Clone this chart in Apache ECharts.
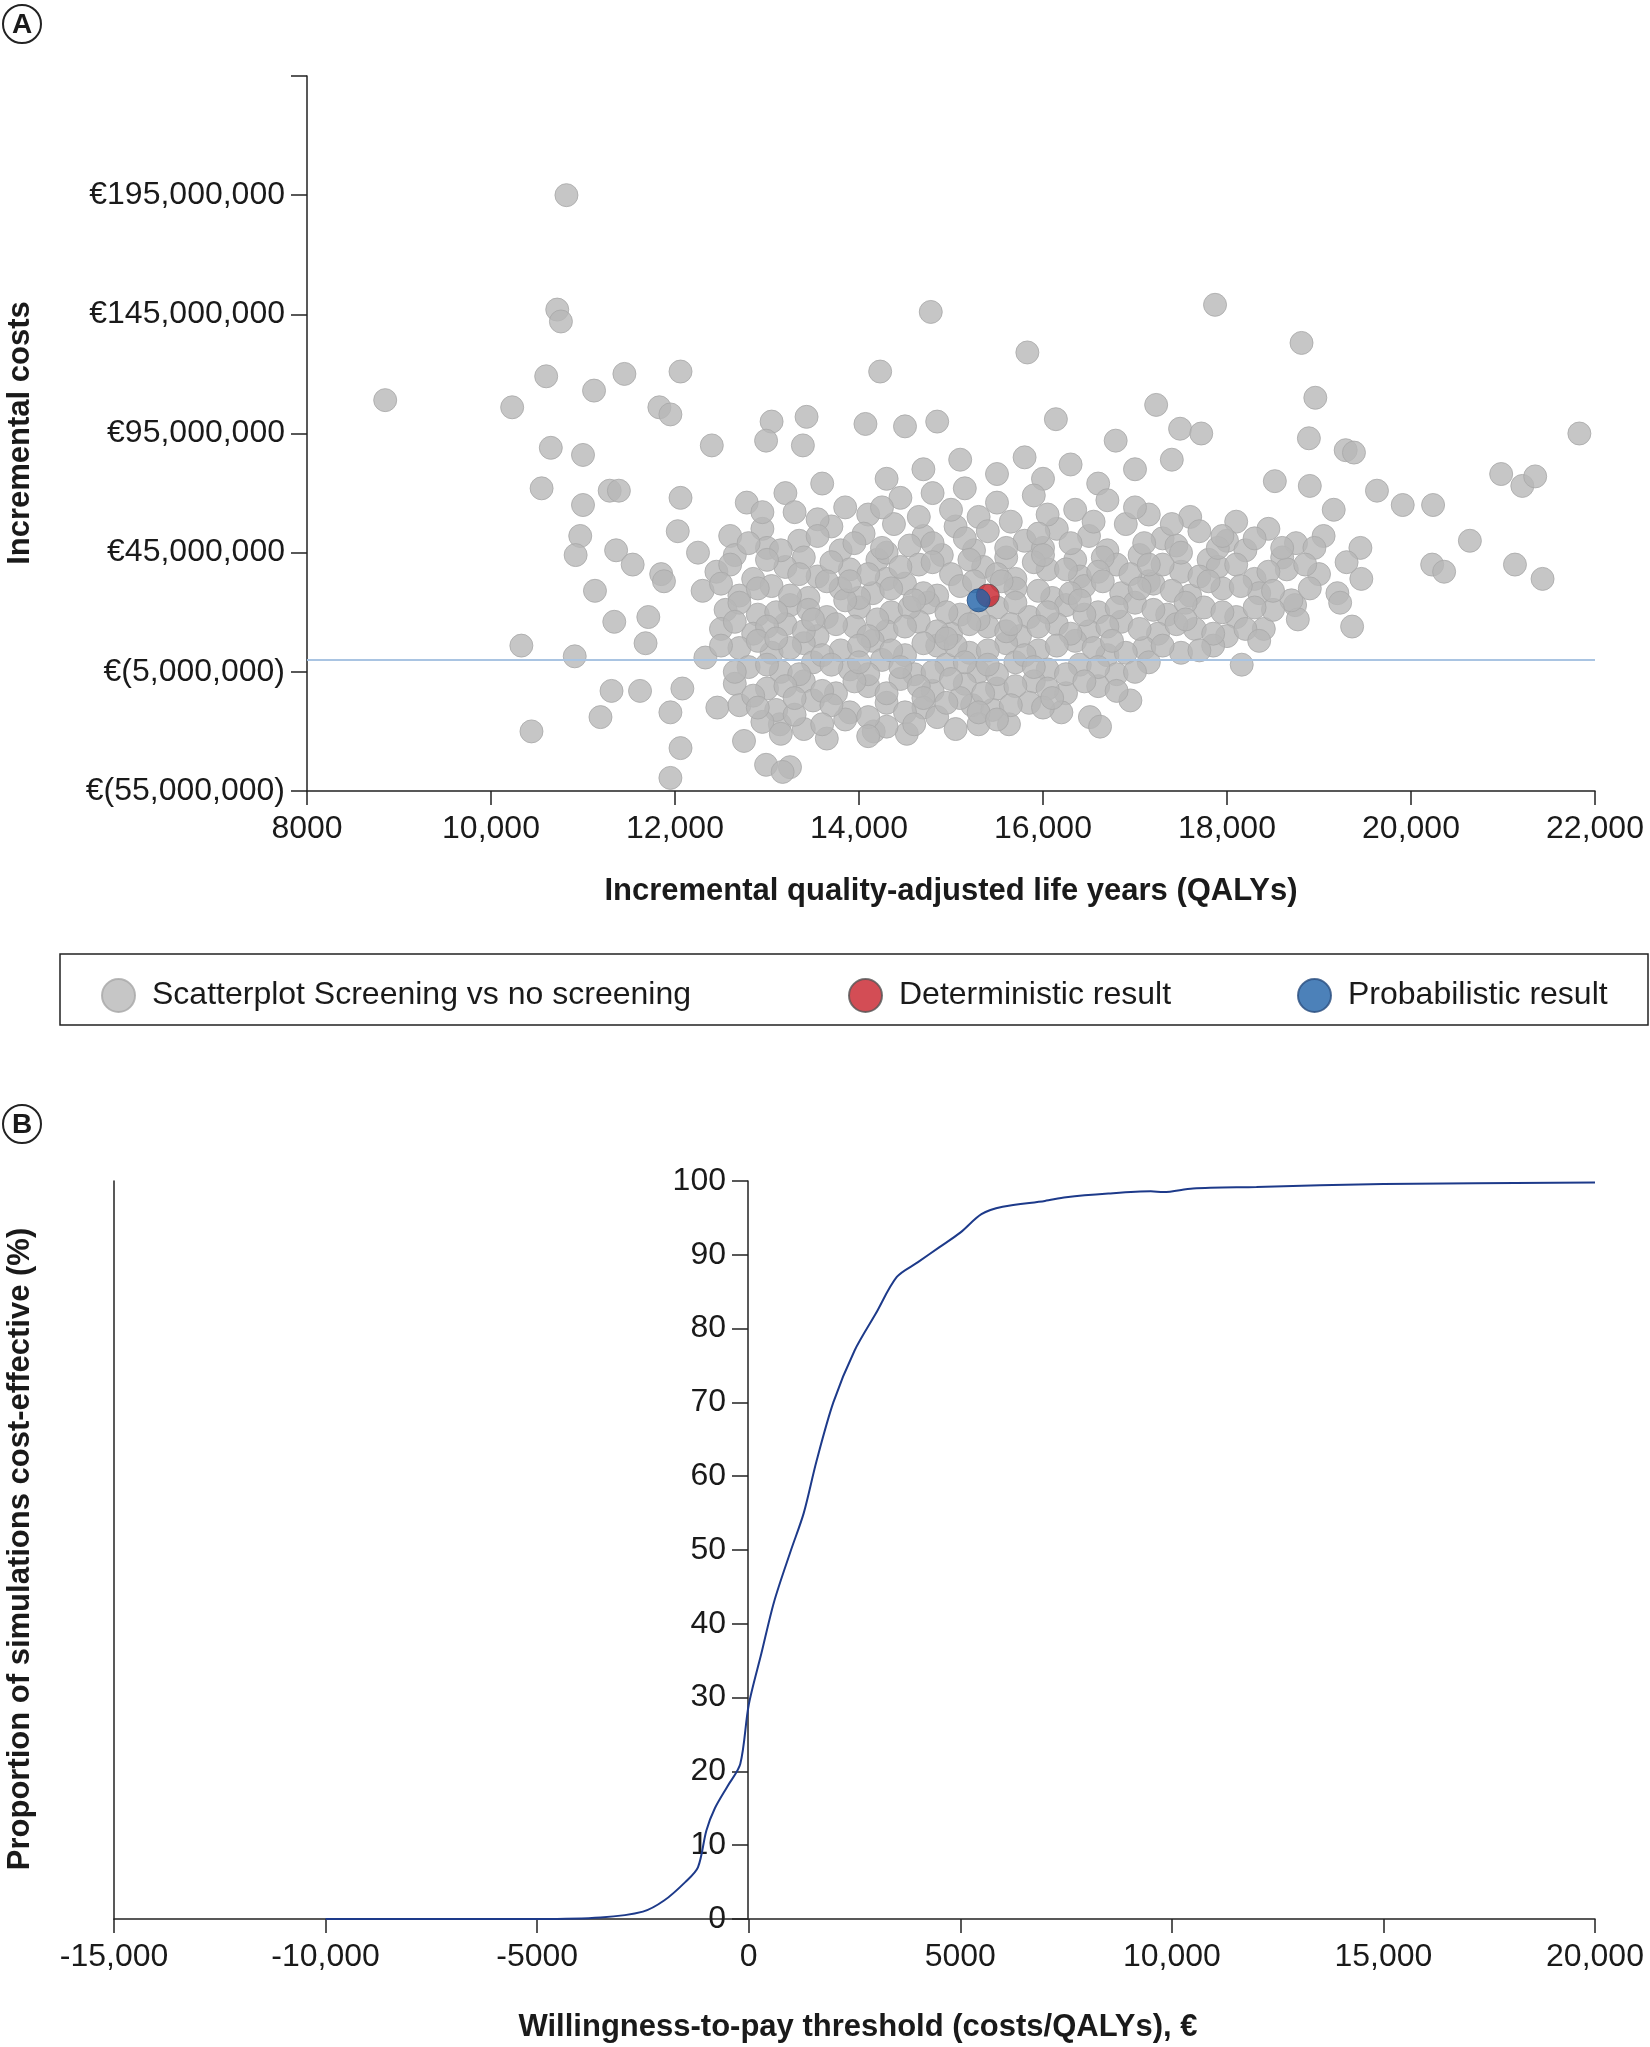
<!DOCTYPE html>
<html>
<head>
<meta charset="utf-8">
<script src="https://cdn.jsdelivr.net/npm/echarts@6/dist/echarts.min.js"></script>
<style>
  html, body { margin: 0; padding: 0; background: #fff; }
  #chart { width: 1650px; height: 2047px; }
</style>
</head>
<body>
<div id="chart"></div>
<script>
// ---------------------------------------------------------------------------
// Data: panel A (incremental QALYs, incremental costs in millions of euro)
// ---------------------------------------------------------------------------
const outlierPoints = [
  [8850,109],[10820,195],[10720,147],[10760,142],[10230,106],[10600,119],[11120,113],
  [11450,120],[11830,106],[11950,103],[12060,121],[10650,89],[11000,86],[12400,90],
  [10550,72],[11000,65],[11290,71],[11390,71],[12060,68],[10970,52],[10920,44],
  [11360,46],[11540,40],[11130,29],[12030,54],[11850,36],[11880,33],[11340,16],
  [11710,18],[11680,7],[10330,6],[10910,1.5],[11310,-13],[11620,-13],[11190,-24],
  [10440,-30],[11950,-22],[12080,-12],[12060,-37],[11950,-49.5],[12330,1],[12460,-20],
  [14780,146],[15830,129],[14230,121],[13050,100],[12990,92],[13430,102],[13390,90],
  [14070,99],[14500,98],[14850,100],[16140,101],[17870,149],[18810,133],[18960,110],
  [17230,107],[18890,93],[21830,95],[17490,97],[17720,95],[16790,92],[19290,88],
  [19380,87],[20980,78],[21210,73],[21350,77],[19630,71],[19910,65],[20240,65],
  [20640,50],[20230,40],[20360,37],[21130,40],[21430,34],[19360,14],[18160,-2],
  [16950,-17],[16510,-24],[15630,-27],[14160,-30],[13250,-45],[12990,-44],[13170,-47],
  [12750,-34],[13140,-27],[13650,-33],[14520,-31],[15230,-19],[16620,-28],[19450,47],
  [19460,34],[19160,63],[18900,73],[18520,75],[19200,28],[19230,24],[18740,23],
  [18400,13],[18770,17],[14700,80],[15100,84],[15500,78],[16000,76],[16600,74],
  [17000,80],[17400,84],[14300,76],[13600,74],[13200,70],[15800,85],[16300,82]
];
const corePoints = [
  [12780,66],[13300,62],[13850,64],[14450,68],[14800,70],[15150,72],[15500,66],[15900,69],
  [16350,63],[16700,67],[17150,61],[17600,60],[18100,58],[14100,61],[15300,60],
  [12600,52],[12950,55],[13350,50],[13700,56],[14050,53],[14380,57],[14700,52],[15050,56],
  [15400,54],[15800,50],[16150,55],[16500,52],[16900,57],[17300,51],[17700,54],[18000,50],
  [18450,55],[18750,49],[19050,52],
  [12250,45],[12650,44],[13000,47],[13400,43],[13800,46],[14200,42],[14550,48],[14900,44],
  [15250,46],[15600,43],[16000,47],[16350,42],[16700,46],[17050,44],[17450,48],[17800,42],
  [18200,46],[18600,43],[18950,47],[19300,41],
  [12450,37],[12850,34],[13200,39],[13550,35],[13900,38],[14300,34],[14650,40],[15000,36],
  [15350,39],[15700,34],[16050,38],[16400,35],[16800,40],[17150,33],[17500,37],[17900,39],
  [18300,34],[18650,38],[19000,36],
  [12300,29],[12700,27],[13050,31],[13450,26],[13800,30],[14150,28],[14500,32],[14850,27],
  [15700,30],[16100,26],[16450,31],[16850,28],[17200,32],[17600,27],[17950,30],[18350,28],
  [18700,25],
  [12550,21],[12900,19],[13250,23],[13650,18],[14000,22],[14350,20],[14750,24],[15100,19],
  [15500,22],[15850,18],[16250,23],[16600,20],[17000,24],[17350,19],[17750,22],[18100,18],
  [18500,21],
  [12500,13],[12850,11],[13200,15],[13550,10],[13950,14],[14300,12],[14650,16],[15000,11],
  [15400,14],[15750,10],[16150,15],[16500,12],[16850,16],[17250,11],[17650,13],[18000,10],
  [12700,5],[13050,3],[13400,7],[13800,4],[14150,8],[14500,2],[14850,6],[15200,3],
  [15600,7],[15950,4],[16350,8],[16700,2],[17100,5],[17500,3],[17850,6],
  [12800,-3],[13150,-5],[13500,-1],[13900,-4],[14250,0],[14600,-6],[14950,-2],[15300,-5],
  [15700,-1],[16050,-4],[16400,-2],[16800,-6],[17150,-1],
  [12650,-10],[13000,-12],[13400,-9],[13750,-14],[14100,-11],[14450,-8],[14800,-13],[15150,-10],
  [15500,-12],[15900,-9],[16250,-14],[16600,-11],
  [12700,-19],[13100,-21],[13500,-17],[13900,-22],[14300,-18],[14700,-20],[15100,-16],[15450,-21],
  [15850,-18],[16200,-22],
  [12950,-26],[13400,-29],[13850,-25],[14300,-28],[14850,-24],[15300,-27]
];
// second, offset layer filling the dense centre of the cloud
const densePoints = [
  [12950,62],[13550,59],[14250,64],[14650,60],[15000,63],[15650,58],[16050,61],[16550,58],[17000,64],[17400,57],
  [12800,49],[13150,46],[13550,52],[13950,49],[14300,45],[14800,49],[15150,51],[15600,47],[15950,53],[16300,49],
  [16650,43],[17100,49],[17500,45],[17900,47],[18300,51],[18600,47],
  [12600,40],[13000,42],[13350,36],[13700,41],[14100,36],[14450,39],[14800,41],[15200,42],[15500,36],[15900,41],
  [16250,38],[16600,37],[16950,36],[17300,40],[17700,35],[18100,40],[18450,37],[18850,40],
  [12500,32],[12900,30],[13250,27],[13650,33],[14000,26],[14350,30],[14700,28],[15100,31],[15550,33],[15950,29],
  [16300,28],[16650,33],[17050,30],[17400,29],[17800,33],[18150,31],[18500,29],[18900,30],
  [12700,24],[13100,20],[13450,21],[13850,25],[14200,17],[14550,22],[14950,20],[15300,17],[15700,24],[16050,20],
  [16450,19],[16800,22],[17200,21],[17550,24],[17950,20],[18300,22],
  [12650,16],[13000,14],[13400,12],[13750,15],[14100,10],[14500,14],[14850,12],[15200,15],[15600,12],[15950,14],
  [16300,11],[16700,14],[17050,13],[17450,15],[17850,11],[18200,13],
  [12500,6],[12900,8],[13250,5],[13600,2],[14000,6],[14350,4],[14700,7],[15050,6],[15400,4],[15800,2],
  [16150,6],[16550,5],[16900,3],[17300,6],[17700,4],
  [12650,-5],[13000,-2],[13350,-6],[13700,-2],[14100,-6],[14450,-3],[14800,-5],[15150,-1],[15500,-6],[15900,-3],
  [16250,-6],[16600,-3],[17000,-5],
  [12850,-15],[13200,-11],[13600,-13],[13950,-9],[14300,-14],[14650,-11],[15000,-8],[15350,-14],[15700,-11],[16050,-12],
  [16450,-9],[16800,-13],
  [12900,-20],[13300,-23],[13700,-19],[14100,-24],[14500,-22],[14950,-18],[15300,-22],[15650,-19],[16000,-20],
  [13150,-31],[13600,-27],[14100,-32],[14600,-27],[15050,-29],[15500,-25],
  [13100,9],[13500,17],[13900,33],[14250,47],[14600,25],[14950,9],[15250,33],[15650,15],[16000,44],[16400,25],
  [16750,8],[17150,40],[17550,17],[17950,52],[18350,8],[13300,-16],[14000,-1],[14700,-16],[15400,-2],[16100,-16]
];
const deterministicPoint = [[15400, 27]];
const probabilisticPoint = [[15300, 25]];

// Panel B: acceptability curve (WTP threshold, % cost-effective)
const wtpValues = [-10000,-5000,-3500,-2500,-2000,-1500,-1200,-1000,-800,-500,-200,0,300,600,1000,1300,
  1600,2000,2500,3000,3500,4000,4500,5000,5500,6000,7000,7500,8500,9500,9800,10500,12000,15000,20000];
const pctValues = [0,0,0.2,1,2.5,5,7,12,15,18,21,29,36,43,50,55,
  62,70,77,82,87,89,91,93,95.5,96.5,97.3,97.8,98.3,98.6,98.5,99,99.2,99.6,99.8];

// ---------------------------------------------------------------------------
const FONT = 'Liberation Sans';
const TXT = '#1a1a1a';
const fmtThousands = v => Math.abs(v) >= 10000 ? v.toLocaleString('en-US') : String(v);
const fmtEuro = v => {
  if (v === 245) return '';
  const s = (Math.abs(v) * 1e6).toLocaleString('en-US');
  return v < 0 ? '€(' + s + ')' : '€' + s;
};
const axisLabel = { fontFamily: FONT, fontSize: 32, color: TXT };
const axisLine = { show: true, onZero: false, lineStyle: { color: '#222', width: 1.5 } };
const axisTick = { show: true, length: 14, lineStyle: { color: '#222', width: 1.5 } };
const titleStyle = { fontFamily: FONT, fontSize: 31, fontWeight: 'bold', fill: TXT };

const chart = echarts.init(document.getElementById('chart'));

function legendAt(left, name) {
  return {
    left: left, top: 973, itemWidth: 33, itemHeight: 33, icon: 'circle',
    data: [name], selectedMode: false,
    textStyle: { fontFamily: FONT, fontSize: 32, color: TXT, padding: [0, 0, 0, 12] }
  };
}

const option = {
  animation: false,
  grid: [
    { left: 307, right: 55, top: 76, bottom: 1256 },
    { left: 114, right: 55, top: 1181, bottom: 128 }
  ],
  xAxis: [
    {
      gridIndex: 0, type: 'value', min: 8000, max: 22000, interval: 2000,
      axisLine, axisTick, splitLine: { show: false },
      axisLabel: { ...axisLabel, margin: 22, formatter: fmtThousands },
      name: 'Incremental quality-adjusted life years (QALYs)', nameLocation: 'middle', nameGap: 85,
      nameTextStyle: { fontFamily: FONT, fontSize: 31, fontWeight: 'bold', color: TXT }
    },
    {
      gridIndex: 1, type: 'value', min: -15000, max: 20000, interval: 5000,
      axisLine, axisTick, splitLine: { show: false },
      axisLabel: { ...axisLabel, margin: 22, formatter: fmtThousands }
    }
  ],
  yAxis: [
    {
      gridIndex: 0, type: 'value', min: -55, max: 245, interval: 50,
      axisLine, axisTick: { ...axisTick, length: 16 }, splitLine: { show: false },
      axisLabel: { ...axisLabel, margin: 22, formatter: fmtEuro }
    },
    {
      gridIndex: 1, type: 'value', min: 0, max: 100, interval: 10, position: 'left', offset: -634,
      axisLine, axisTick: { ...axisTick, length: 16 }, splitLine: { show: false },
      axisLabel: { ...axisLabel, margin: 22 }
    },
    {
      gridIndex: 1, type: 'value', min: 0, max: 100, position: 'left',
      axisLine, axisTick: { show: false }, axisLabel: { show: false }, splitLine: { show: false }
    }
  ],
  legend: [
    legendAt(96, 'Scatterplot Screening vs no screening'),
    legendAt(843, 'Deterministic result'),
    legendAt(1292, 'Probabilistic result')
  ],
  graphic: [
    { type: 'rect', shape: { x: 60, y: 954, width: 1588, height: 71 },
      style: { fill: 'none', stroke: '#222', lineWidth: 1.5 } },
    { type: 'circle', shape: { cx: 22, cy: 24, r: 19 }, style: { fill: 'none', stroke: '#222', lineWidth: 2 } },
    { type: 'text', x: 22, y: 25, style: { text: 'A', ...titleStyle, fontSize: 28, align: 'center', verticalAlign: 'middle' } },
    { type: 'circle', shape: { cx: 22, cy: 1124, r: 19 }, style: { fill: 'none', stroke: '#222', lineWidth: 2 } },
    { type: 'text', x: 22, y: 1125, style: { text: 'B', ...titleStyle, fontSize: 28, align: 'center', verticalAlign: 'middle' } },
    { type: 'text', x: 20, y: 433, rotation: Math.PI / 2,
      style: { text: 'Incremental costs', ...titleStyle, align: 'center', verticalAlign: 'middle' } },
    { type: 'text', x: 20, y: 1549, rotation: Math.PI / 2,
      style: { text: 'Proportion of simulations cost-effective (%)', ...titleStyle, align: 'center', verticalAlign: 'middle' } },
    { type: 'text', x: 858, y: 2027,
      style: { text: 'Willingness-to-pay threshold (costs/QALYs), €', ...titleStyle, align: 'center', verticalAlign: 'middle' } }
  ],
  series: [
    {
      name: 'Scatterplot Screening vs no screening', type: 'scatter', xAxisIndex: 0, yAxisIndex: 0,
      data: outlierPoints.concat(corePoints, densePoints), symbolSize: 23,
      itemStyle: { color: '#b8b8b8', borderColor: '#a8a8a8', borderWidth: 1 },
      markLine: {
        silent: true, symbol: 'none', label: { show: false },
        lineStyle: { color: '#a9c4e2', type: 'solid', width: 2 },
        data: [{ yAxis: 0 }]
      }
    },
    {
      name: 'Deterministic result', type: 'scatter', xAxisIndex: 0, yAxisIndex: 0,
      data: deterministicPoint, symbolSize: 23,
      itemStyle: { color: '#c8202a', borderColor: '#555', borderWidth: 1 }
    },
    {
      name: 'Probabilistic result', type: 'scatter', xAxisIndex: 0, yAxisIndex: 0,
      data: probabilisticPoint, symbolSize: 23,
      itemStyle: { color: '#1f62a8', borderColor: '#2a4f80', borderWidth: 1 }
    },
    {
      type: 'line', xAxisIndex: 1, yAxisIndex: 1, showSymbol: false, smooth: 0.3,
      data: wtpValues.map((w, i) => [w, pctValues[i]]),
      lineStyle: { color: '#1d3a8a', width: 2 }
    }
  ]
};

chart.setOption(option);
</script>
</body>
</html>
